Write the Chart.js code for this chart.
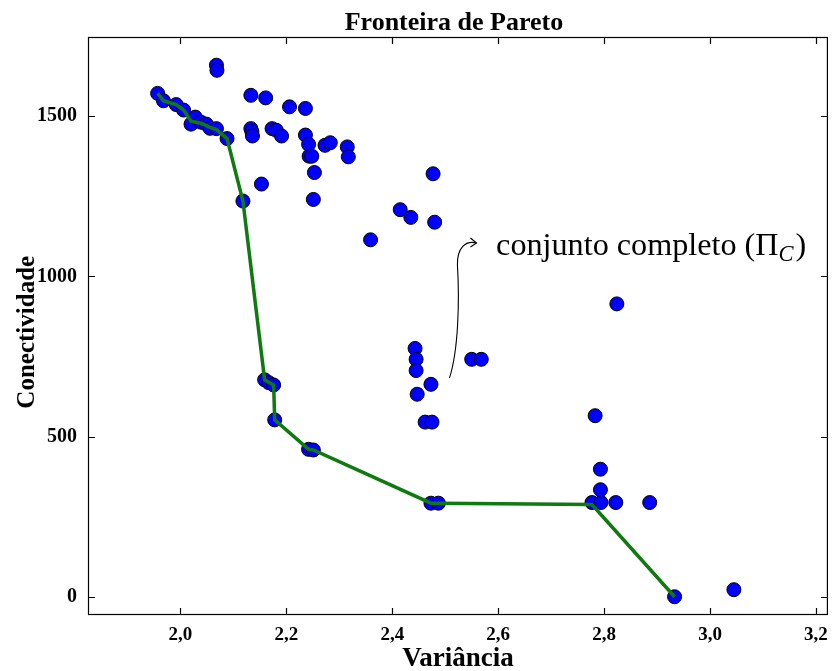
<!DOCTYPE html>
<html>
<head>
<meta charset="utf-8">
<script src="https://cdn.jsdelivr.net/npm/chart.js@4/dist/chart.umd.min.js"></script>
<style>
  html, body { margin: 0; padding: 0; background: #fff; }
</style>
</head>
<body>
<canvas id="myChart" width="837" height="671"></canvas>
<script>
// todos os pontos (conjunto completo)
const variancia = [
  1.957, 1.968, 1.992, 2.006, 2.020, 2.028, 2.039, 2.049, 2.056, 2.068, 2.088,
  2.118, 2.159, 2.167, 2.176, 2.178, 2.242, 2.251, 2.473, 2.487, 2.777, 2.933,
  2.068, 2.069, 2.133, 2.161, 2.206, 2.236, 2.133, 2.135, 2.136, 2.173, 2.181,
  2.191, 2.236, 2.242, 2.243, 2.248, 2.273, 2.283, 2.315, 2.317, 2.153, 2.253,
  2.251, 2.477, 2.415, 2.435, 2.480, 2.359, 2.443, 2.445, 2.445, 2.550, 2.568,
  2.473, 2.447, 2.462, 2.475, 2.824, 2.783, 2.793, 2.793, 2.794, 2.822, 2.886,
  3.045
]
const conectividade = [
  1571, 1548, 1536, 1519, 1475, 1497, 1481, 1475, 1462, 1461, 1430,
  1235, 677, 668, 661, 552, 460, 458, 292, 292, 294, 0,
  1659, 1643, 1565, 1557, 1529, 1524, 1461, 1451, 1438, 1461, 1456,
  1438, 1441, 1412, 1375, 1375, 1409, 1417, 1404, 1373, 1288, 1324,
  1240, 1320, 1208, 1184, 1169, 1114, 775, 741, 706, 741, 741,
  663, 632, 545, 545, 914, 565, 398, 334, 294, 294, 294,
  22
]

// fronteira de pareto (linha verde)
const frenteX = [1.957, 1.968, 1.992, 2.006, 2.020, 2.039, 2.056, 2.068, 2.088, 2.118,
  2.159, 2.176, 2.178, 2.242, 2.251, 2.473, 2.487, 2.777, 2.933]
const frenteY = [1571, 1548, 1536, 1519, 1484, 1478, 1465, 1458, 1430, 1235,
  677, 661, 552, 460, 458, 292, 292, 288, 0]

const xTicks = [2.0, 2.2, 2.4, 2.6, 2.8, 3.0, 3.2]
const yTicks = [0, 500, 1000, 1500]

const titulo = "Fronteira de Pareto"
const fonte = "'Liberation Serif', 'Times New Roman', serif"

// moldura com ticks para dentro nos 4 lados + titulo centrado na area
const moldura = {
  id: "moldura",
  afterDraw(chart) {
    const ctx = chart.ctx
    const a = chart.chartArea
    const x = chart.scales.x, y = chart.scales.y
    const tl = 7
    ctx.save()
    ctx.strokeStyle = "#000"
    ctx.lineWidth = 1.2
    ctx.strokeRect(a.left + 0.5, a.top + 0.5, a.right - a.left - 1, a.bottom - a.top - 1)
    ctx.beginPath()
    xTicks.forEach(v => {
      const px = Math.round(x.getPixelForValue(v)) + 0.5
      ctx.moveTo(px, a.bottom); ctx.lineTo(px, a.bottom - tl)
      ctx.moveTo(px, a.top); ctx.lineTo(px, a.top + tl)
    })
    yTicks.forEach(v => {
      const py = Math.round(y.getPixelForValue(v)) + 0.5
      ctx.moveTo(a.left, py); ctx.lineTo(a.left + tl, py)
      ctx.moveTo(a.right, py); ctx.lineTo(a.right - tl, py)
    })
    ctx.stroke()

    ctx.fillStyle = "#000"
    ctx.font = "bold 26px " + fonte
    ctx.textAlign = "center"
    ctx.textBaseline = "alphabetic"
    ctx.fillText(titulo, (a.left + a.right) / 2 - 4, a.top - 7)
    ctx.restore()
  }
}

// anotação "conjunto completo" com seta curva
const anotacao = {
  id: "anotacao",
  afterDatasetsDraw(chart) {
    const ctx = chart.ctx
    const x = chart.scales.x, y = chart.scales.y
    const X = v => x.getPixelForValue(v), Y = v => y.getPixelForValue(v)
    ctx.save()
    // seta
    ctx.strokeStyle = "#000"
    ctx.lineWidth = 1.1
    ctx.beginPath()
    ctx.moveTo(X(2.508), Y(683))
    ctx.bezierCurveTo(X(2.525), Y(770), X(2.527), Y(926), X(2.523), Y(1035))
    ctx.bezierCurveTo(X(2.522), Y(1088), X(2.538), Y(1113), X(2.559), Y(1104))
    ctx.stroke()
    const tx = X(2.559), ty = Y(1104)
    ctx.beginPath()
    ctx.moveTo(tx - 6, ty - 5); ctx.lineTo(tx, ty); ctx.lineTo(tx - 6, ty + 4)
    ctx.stroke()
    // texto
    const alvo = 311
    let fs = 24
    ctx.font = fs + "px " + fonte
    const w0 = ctx.measureText("conjunto completo (\u03A0").width
    ctx.font = "italic " + (fs * 0.7) + "px " + fonte
    const w1 = ctx.measureText("C").width
    ctx.font = fs + "px " + fonte
    const w2 = ctx.measureText(")").width
    fs = fs * alvo / (w0 + w1 + w2 + 2)
    let px = X(2.596), py = Y(1067)
    ctx.fillStyle = "#000"
    ctx.textBaseline = "alphabetic"
    ctx.font = fs + "px " + fonte
    ctx.fillText("conjunto completo (\u03A0", px, py)
    px += ctx.measureText("conjunto completo (\u03A0").width
    ctx.font = "italic " + (fs * 0.7) + "px " + fonte
    ctx.fillText("C", px, py + fs * 0.2)
    px += ctx.measureText("C").width + 2
    ctx.font = fs + "px " + fonte
    ctx.fillText(")", px, py)
    ctx.restore()
  }
}

const pontos = variancia.map((v, i) => ({ x: v, y: conectividade[i] }))
const frente = frenteX.map((v, i) => ({ x: v, y: frenteY[i] }))

const grafico = new Chart("myChart", {
  type: "scatter",
  data: {
    datasets: [{
        label: "Fronteira",
        data: frente,
        showLine: true,
        borderColor: "#0f7a0f",
        borderWidth: 3.5,
        pointRadius: 0,
        order: 0
      }, {
        label: "Conjunto completo",
        data: pontos,
        backgroundColor: "#0000ff",
        borderColor: "#000",
        borderWidth: 1,
        pointRadius: 7,
        order: 1
      }
    ]
  },
  options: {
    responsive: false,
    animation: false,
    devicePixelRatio: 1,
    layout: { padding: { left: 0, right: 3, top: 37, bottom: 0 } },
    plugins: {
      legend: { display: false },
      tooltip: { enabled: false },
      title: { display: false }
    },
    scales: {
      x: {
        type: "linear",
        min: 1.8255,
        max: 3.2225,
        afterBuildTicks: s => { s.ticks = xTicks.map(v => ({ value: v })) },
        afterFit: s => { s.height = 56 },
        grid: { display: false, drawTicks: false },
        border: { display: false },
        ticks: {
          color: "#000",
          padding: 9,
          maxRotation: 0,
          font: { family: fonte, size: 19, weight: "bold" },
          callback: v => v.toFixed(1).replace(".", ",")
        },
        title: {
          display: true,
          text: "Variância",
          color: "#000",
          padding: { top: 0, bottom: 1 },
          font: { family: fonte, size: 27, weight: "bold", lineHeight: 0.8 }
        }
      },
      y: {
        type: "linear",
        min: -57,
        max: 1747,
        afterBuildTicks: s => { s.ticks = yTicks.map(v => ({ value: v })) },
        afterFit: s => { s.width = 88 },
        grid: { display: false, drawTicks: false },
        border: { display: false },
        ticks: {
          color: "#000",
          padding: 11,
          font: { family: fonte, size: 20, weight: "bold" },
          callback: v => String(v)
        },
        title: {
          display: true,
          text: "Conectividade  ",
          color: "#000",
          padding: { top: 13, bottom: 0 },
          font: { family: fonte, size: 25, weight: "bold" }
        }
      }
    }
  },
  plugins: [moldura, anotacao]
})
</script>
</body>
</html>
